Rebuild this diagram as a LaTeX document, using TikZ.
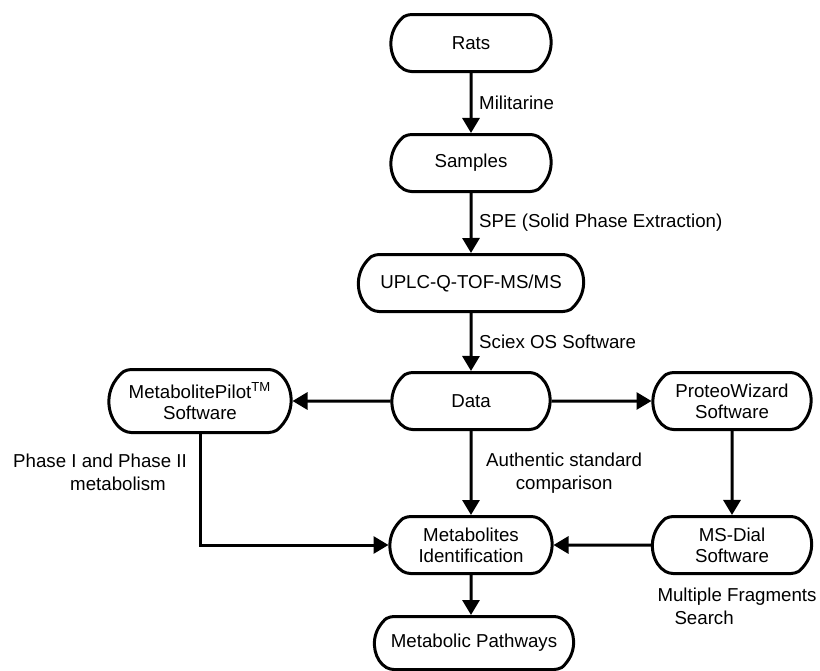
\documentclass[tikz,border=0pt]{standalone}
\usepackage{fontspec}
\setmainfont{Liberation Sans}
\usetikzlibrary{shapes.misc,arrows.meta,positioning}

\begin{document}
\begin{tikzpicture}[x=0.5pt,y=-0.5pt,
  boxstyle/.style={rounded rectangle, rounded rectangle arc length=120, rounded corners=2pt,
    draw, line width=1.5pt, minimum height=28.5pt, inner sep=2pt, align=center,
    font=\fontsize{9.35}{10.5}\selectfont},
  arrowstyle/.style={line width=1.5pt, -{Triangle[length=7.5pt,width=8.5pt]}},
  labelstyle/.style={font=\fontsize{9.35}{11.5}\selectfont}]
\useasboundingbox (0,0) rectangle (820,670);

% main column
\node[boxstyle, minimum width=84pt] (rats) at (471,43) {Rats};
\node[boxstyle, minimum width=84pt] (samples) at (471,163) {Samples};
\node[boxstyle, minimum width=116.5pt] (uplc) at (471,283) {UPLC-Q-TOF-MS/MS};
\node[boxstyle, minimum width=83pt] (data) at (471,401) {Data};
\node[boxstyle, minimum width=85pt] (ident) at (471,545) {Metabolites\\Identification};
\node[boxstyle, minimum width=103.5pt, minimum height=26.5pt] (pathways) at (474,643) {Metabolic Pathways};

% side boxes
\node[boxstyle, minimum width=95pt, minimum height=31.5pt] (pilot) at (200,401) {MetabolitePilot\textsuperscript{TM}\\Software};
\node[boxstyle, minimum width=83pt] (wizard) at (732,401) {ProteoWizard\\Software};
\node[boxstyle, minimum width=83.5pt] (dial) at (732,545) {MS-Dial\\Software};

\foreach \a/\b/\t in {rats/samples/Militarine, samples/uplc/SPE (Solid Phase Extraction), uplc/data/Sciex OS Software}
  \draw[arrowstyle] (\a) -- node[right, labelstyle]{\t} (\b);

\draw[arrowstyle] (data) -- (pilot);
\draw[arrowstyle] (data) -- (wizard);
\draw[arrowstyle] (wizard) -- (dial);
\draw[arrowstyle] (dial) -- (ident);
\draw[arrowstyle] (data) -- node[right, labelstyle, align=center, xshift=3.5pt]{Authentic standard\\comparison} (ident);
\draw[arrowstyle] (pilot) |- (ident);
\draw[arrowstyle] (ident) -- (pathways.north -| ident);

\node[labelstyle, align=left] (phase) at (100,472) {Phase I and Phase II\\\hspace{28.5pt}metabolism};
\node[labelstyle, align=left] (search) at (737,606) {Multiple Fragments\\\hspace{8.5pt}Search};
\end{tikzpicture}
\end{document}
